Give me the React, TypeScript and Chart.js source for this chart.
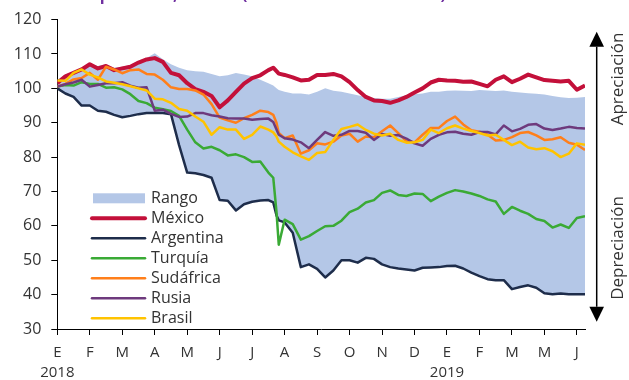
import React, { useEffect, useRef } from 'react';
import { Chart, registerables } from 'chart.js';

Chart.register(...registerables);

// Time axis: months elapsed since 1 January 2018
const months = [
  0, 0.25, 0.5, 0.75, 1, 1.25, 1.5, 1.75, 2, 2.25, 2.5, 2.75, 3, 3.25, 3.5, 3.75,
  4, 4.25, 4.5, 4.75, 5, 5.25, 5.5, 5.75, 6, 6.25, 6.5, 6.65, 6.75, 6.82,
  7, 7.25, 7.5, 7.75, 8, 8.25, 8.5, 8.75, 9, 9.25, 9.5, 9.75, 10, 10.25, 10.5, 10.75,
  11, 11.25, 11.5, 11.75, 12, 12.25, 12.5, 12.75, 13, 13.25, 13.5, 13.75,
  14, 14.25, 14.5, 14.75, 15, 15.25, 15.5, 15.75, 16, 16.25,
];

const tickMonths = [0, 1, 2, 3, 4, 5, 6, 7, 8, 9, 10, 11, 12, 13, 14, 15, 16];
const tickLabels = ['E', 'F', 'M', 'A', 'M', 'J', 'J', 'A', 'S', 'O', 'N', 'D', 'E', 'F', 'M', 'M', 'J'];
const yearLabels: Record<number, string> = { 0: '2018', 12: '2019' };
const yTicks = { min: 30, max: 120, step: 10 };

// Upper edge of the emerging-market range (lower edge follows Argentina)
const rangoAlto = [
  102.5, 104, 105, 106, 107.3, 106.5, 107, 106, 106.3, 106.8, 108, 108.8, 110.2, 108.5, 107, 106,
  105.3, 105, 104.8, 104.2, 103.5, 103.8, 104.5, 104, 103.5, 102.5, 101.5, 100.8, 100, 99.5,
  99, 98.5, 98.5, 98.2, 99, 100, 99.3, 99, 98.5, 98, 97.5, 97.2, 97, 97, 97.5, 98,
  98.3, 98.5, 99, 99, 99.3, 99.4, 99.3, 99.2, 99.5, 99.4, 99.2, 99.4,
  99, 98.8, 98.6, 98.4, 98.2, 97.8, 97.4, 97.2, 97.3, 97.5,
];

const mexico = [
  101.5, 103.5, 104.5, 105.5, 107, 105.8, 106.5, 105.3, 105.8, 106.3, 107.5, 108.4, 108.8, 107.7, 104.5, 103.8,
  101.5, 99.8, 99.0, 97.8, 94.5, 96.5, 99, 101.4, 103, 103.8, 105.3, 106, 105, 104.3,
  103.9, 103.2, 102.3, 102.5, 103.9, 103.9, 104.2, 103.5, 101.8, 99.5, 97.5, 96.5, 96.3, 95.8, 96.5, 97.5,
  98.8, 100, 101.7, 102.5, 102.3, 102.2, 101.9, 102, 101.3, 100.6, 102.5, 103.5,
  101.8, 102.8, 104, 103.2, 102.4, 102.2, 102, 102.2, 99.6, 100.8,
];

const argentina = [
  100, 98.5, 97.5, 95.0, 95.0, 93.5, 93.2, 92.3, 91.6, 92.0, 92.5, 92.8, 92.8, 92.8, 92.5, 83.5,
  75.5, 75.3, 74.8, 74, 67.5, 67.3, 64.5, 66.3, 67, 67.4, 67.5, 66.8, 63, 61.6,
  61, 58, 48, 48.8, 47.5, 45, 47, 50, 50, 49.3, 50.7, 50.4, 48.8, 48, 47.6, 47.3,
  47, 47.8, 47.9, 48, 48.3, 48.4, 47.6, 46.4, 45.4, 44.5, 44.2, 44.2,
  41.6, 42.2, 42.7, 42, 40.4, 40.1, 40.3, 40.1, 40.1, 40.1,
];

const turquia = [
  100.5, 101, 100.8, 101.8, 101.3, 101.3, 100.2, 100.3, 99.7, 98.3, 96.3, 95.7, 94.4, 93.9, 93.4, 92,
  88, 84.3, 82.5, 83, 82, 80.5, 80.8, 80, 78.6, 78.7, 75.5, 74, 64, 54.5,
  61.8, 60.5, 56, 57, 58.5, 59.9, 60, 61.5, 64, 65, 66.8, 67.5, 69.6, 70.3, 69, 68.7,
  69.4, 69.3, 67.2, 68.5, 69.6, 70.4, 70, 69.4, 68.7, 67.7, 67.1, 63.5,
  65.5, 64.4, 63.5, 62, 61.4, 59.5, 60.4, 59.4, 62.3, 62.8,
];

const sudafrica = [
  100.5, 101.3, 102.6, 103, 104.5, 102.5, 106.3, 105.5, 104.4, 105.3, 105.5, 104.2, 104, 102.5, 100.3, 99.8,
  99.8, 99.4, 98.2, 95.4, 91.5, 90.7, 90, 91.3, 92.3, 93.5, 93.1, 92.3, 90, 87,
  85.5, 86.3, 81, 82, 84, 83.7, 84.5, 86.3, 86.8, 84.5, 86, 85.8, 87.5, 89.2, 87, 84.6,
  84.3, 86.5, 88.5, 88.5, 90.5, 91.8, 89.5, 87.8, 87.4, 86.5, 84.8, 85,
  85.8, 87, 87.3, 86.3, 85, 85.2, 85.8, 84.2, 83.6, 82.1,
];

const rusia = [
  100.5, 101.2, 101.7, 102.5, 100.5, 101, 101.5, 101.5, 101.8, 100.8, 100.2, 100.3, 93.5, 93.8, 92.6, 91.7,
  91.8, 92.8, 92.8, 92.2, 91.8, 91.3, 91.2, 91.2, 90.9, 91.1, 91.2, 90.2, 88, 86.5,
  85.5, 85.1, 84.3, 82.6, 85, 87.3, 86.2, 86.5, 87.6, 87.6, 87.1, 85, 86.7, 86.2, 86.4, 85.4,
  84, 83.3, 85.3, 86.5, 87.2, 87.4, 86.8, 86.5, 87.3, 87.3, 86.6, 89.2,
  87.5, 88.2, 89.4, 89.6, 88.3, 87.9, 88.3, 88.8, 88.5, 88.3,
];

const brasil = [
  102.3, 102.2, 104.5, 105.5, 104, 103.2, 102, 101.6, 101.2, 100.6, 100, 99.4, 97, 96.8, 95.8, 94,
  93.5, 91.8, 90.3, 86.5, 88.7, 88, 88, 85.3, 86.5, 88.9, 88, 87.2, 86, 84.5,
  83, 81.4, 80.2, 79.2, 81.2, 81.5, 85, 88.2, 88.8, 89.5, 87.9, 86.8, 86.3, 86.8, 85, 84.2,
  84.3, 85, 88, 87, 88.4, 89.2, 88.3, 87.6, 87, 86.3, 86.5, 85,
  83.5, 84.5, 82.8, 82.3, 82.6, 81.7, 80, 81, 84, 83.6,
];

const RANGE_COLOR = '#B4C7E7';
const TEXT_COLOR = '#333333';
const FONT = '"Open Sans", sans-serif';

const series = [
  { label: 'México', values: mexico, color: '#C3103A', width: 4 },
  { label: 'Argentina', values: argentina, color: '#1E2D4B', width: 2.5 },
  { label: 'Turquía', values: turquia, color: '#3AAA35', width: 2.5 },
  { label: 'Sudáfrica', values: sudafrica, color: '#FF7F1A', width: 2.5 },
  { label: 'Rusia', values: rusia, color: '#6E3A7D', width: 2.5 },
  { label: 'Brasil', values: brasil, color: '#FFC300', width: 2.5 },
];

const toPoints = (vals: number[]) => vals.map((y, i) => ({ x: months[i], y }));

// Legend, appreciation/depreciation arrow and the title line
const overlayPlugin = {
  id: 'overlay',
  afterDraw(chart: any) {
    const ctx: CanvasRenderingContext2D = chart.ctx;
    ctx.save();

    // title: it sits above the top edge, only the descenders reach into view
    ctx.fillStyle = '#7030A0';
    ctx.font = `bold 16px ${FONT}`;
    ctx.textBaseline = 'alphabetic';
    ctx.textAlign = 'right';
    ctx.fillText('Tipos de cambio por dólar, índices ', 242, -0.5);
    ctx.textAlign = 'left';
    ctx.fillText('(2 de enero de 2018 = 100)', 242, -0.5);

    // legend
    const lx0 = 92;
    const lx1 = 145;
    const tx = 151;
    const y0 = 198.3;
    const dy = 20;
    ctx.font = `16px ${FONT}`;
    ctx.textBaseline = 'middle';
    ctx.textAlign = 'left';
    ctx.fillStyle = RANGE_COLOR;
    ctx.fillRect(lx0 + 1, y0 - 5, lx1 - lx0 - 1, 10);
    ctx.fillStyle = TEXT_COLOR;
    ctx.fillText('Rango', tx, y0);
    series.forEach((s, i) => {
      const y = y0 + dy * (i + 1);
      ctx.strokeStyle = s.color;
      ctx.lineWidth = s.width;
      ctx.lineCap = 'round';
      ctx.beginPath();
      ctx.moveTo(lx0, y);
      ctx.lineTo(lx1, y);
      ctx.stroke();
      ctx.fillStyle = TEXT_COLOR;
      ctx.fillText(s.label, tx, y);
    });

    // double-headed arrow
    const ax = 596.7;
    const top = 31.7;
    const bottom = 321.7;
    const hw = 7.3;
    const hh = 15;
    ctx.strokeStyle = '#000';
    ctx.fillStyle = '#000';
    ctx.lineWidth = 1.5;
    ctx.lineCap = 'butt';
    ctx.beginPath();
    ctx.moveTo(ax, top + hh);
    ctx.lineTo(ax, bottom - hh);
    ctx.stroke();
    ctx.beginPath();
    ctx.moveTo(ax, top);
    ctx.lineTo(ax - hw, top + hh);
    ctx.lineTo(ax + hw, top + hh);
    ctx.closePath();
    ctx.fill();
    ctx.beginPath();
    ctx.moveTo(ax, bottom);
    ctx.lineTo(ax - hw, bottom - hh);
    ctx.lineTo(ax + hw, bottom - hh);
    ctx.closePath();
    ctx.fill();

    // rotated captions
    ctx.fillStyle = TEXT_COLOR;
    ctx.font = `17px ${FONT}`;
    ctx.textAlign = 'center';
    ctx.textBaseline = 'middle';
    const caption = (text: string, cy: number) => {
      ctx.save();
      ctx.translate(618, cy);
      ctx.rotate(-Math.PI / 2);
      ctx.fillText(text, 0, 0);
      ctx.restore();
    };
    caption('Apreciación', 79);
    caption('Depreciación', 248);

    ctx.restore();
  },
};

export default function App() {
  const canvasRef = useRef<HTMLCanvasElement | null>(null);

  useEffect(() => {
    document.body.style.margin = '0';
    const canvas = canvasRef.current;
    if (!canvas) return;

    const lineSets = series.map((s, i) => ({
      label: s.label,
      data: toPoints(s.values),
      borderColor: s.color,
      backgroundColor: s.color,
      borderWidth: s.width,
      pointRadius: 0,
      tension: 0,
      fill: false,
      borderJoinStyle: 'round' as const,
      order: series.length - i,
    }));

    const chart = new Chart(canvas, {
      type: 'line',
      data: {
        datasets: [
          {
            label: 'Rango',
            data: toPoints(rangoAlto),
            borderWidth: 0,
            borderColor: 'rgba(0,0,0,0)',
            backgroundColor: RANGE_COLOR,
            pointRadius: 0,
            tension: 0,
            fill: 2, // down to the Argentina series
            order: 10,
          },
          ...lineSets,
        ],
      },
      options: {
        animation: false,
        responsive: false,
        events: [],
        layout: { padding: { top: 19, right: 44, left: 0, bottom: 0 } },
        plugins: {
          legend: { display: false },
          tooltip: { enabled: false },
          title: { display: false },
        },
        scales: {
          x: {
            type: 'linear',
            min: 0,
            max: 16.25,
            afterBuildTicks: (axis: any) => {
              axis.ticks = tickMonths.map((v) => ({ value: v }));
            },
            afterFit: (axis: any) => {
              axis.height = 51;
            },
            ticks: {
              autoSkip: false,
              maxRotation: 0,
              minRotation: 0,
              padding: 8,
              color: TEXT_COLOR,
              font: { family: FONT, size: 15, lineHeight: 1.33 },
              callback: (value: any) => {
                const idx = tickMonths.indexOf(Number(value));
                const lbl = tickLabels[idx] ?? '';
                const yr = yearLabels[Number(value)];
                return yr ? [lbl, yr] : lbl;
              },
            },
            grid: { drawOnChartArea: false, drawTicks: true, tickLength: 6, color: '#000' },
            border: { display: true, color: '#000', width: 1 },
          },
          y: {
            min: yTicks.min,
            max: yTicks.max,
            afterFit: (axis: any) => {
              axis.width = 57.3;
            },
            ticks: {
              stepSize: yTicks.step,
              padding: 10,
              color: TEXT_COLOR,
              font: { family: FONT, size: 16 },
            },
            grid: { drawOnChartArea: false, drawTicks: true, tickLength: 6, color: '#000' },
            border: { display: true, color: '#000', width: 1 },
          },
        },
      } as any,
      plugins: [overlayPlugin],
    });

    return () => {
      chart.destroy();
    };
  }, []);

  return (
    <div style={{ width: 629, height: 380 }}>
      <canvas ref={canvasRef} width={629} height={380} style={{ display: 'block' }} />
    </div>
  );
}
